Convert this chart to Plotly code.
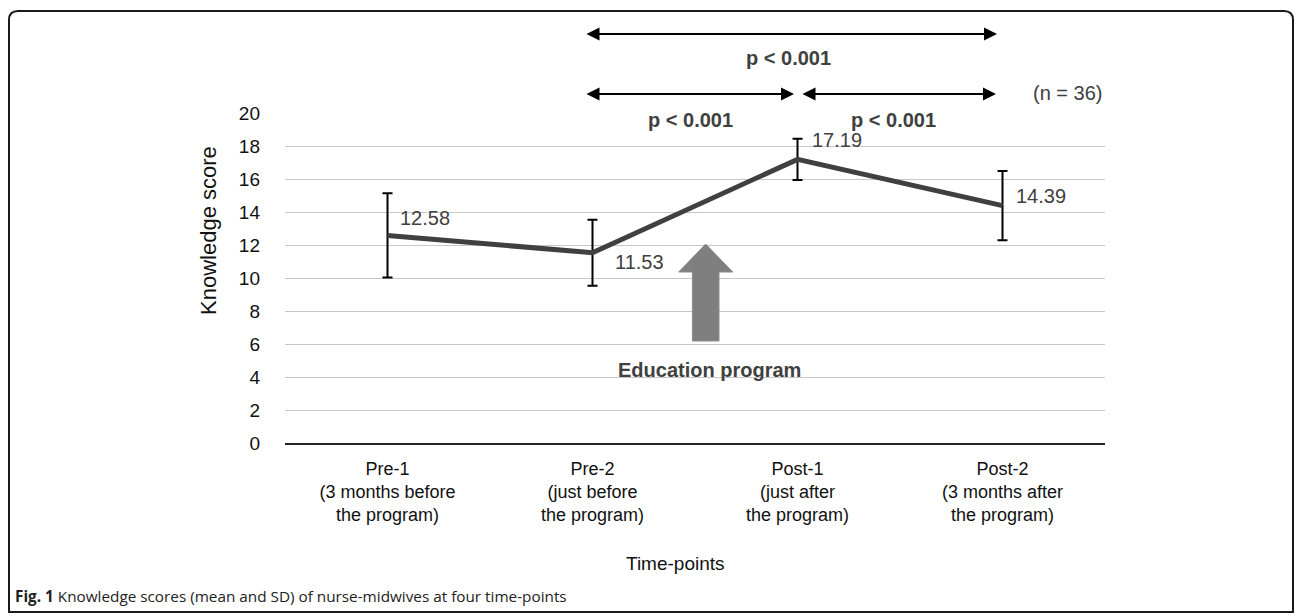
import plotly.graph_objects as go

# ---- data ----
categories = ["Pre-1", "Pre-2", "Post-1", "Post-2"]
tick_labels = [
    "Pre-1<br>(3 months before<br>the program)",
    "Pre-2<br>(just before<br>the program)",
    "Post-1<br>(just after<br>the program)",
    "Post-2<br>(3 months after<br>the program)",
]
means = [12.58, 11.53, 17.19, 14.39]
sds = [2.55, 2.0, 1.25, 2.1]
value_labels = ["12.58", "11.53", "17.19", "14.39"]
label_xshift = [10, 20, 12, 11]
label_yshift = [17, -9, 19, 10]

FONT = "Liberation Sans, Arial, sans-serif"
W, H = 1295, 615
L, R, T, B = 285, 190, 113, 172
PW, PH = W - L - R, H - T - B


def px(x):  # screen x -> paper
    return (x - L) / PW


def py(y):  # screen y -> paper
    return (H - B - y) / PH


fig = go.Figure()
fig.add_trace(go.Scatter(
    x=categories, y=means, mode="lines",
    line=dict(color="#404040", width=5),
    error_y=dict(type="data", array=sds, visible=True, color="#000000", thickness=2, width=5),
    showlegend=False, hoverinfo="skip",
))

ann = []
for c, t, xs, ys in zip(categories, value_labels, label_xshift, label_yshift):
    ann.append(dict(x=c, y=means[categories.index(c)], xref="x", yref="y", text=t, showarrow=False,
                    xanchor="left", yanchor="middle", xshift=xs, yshift=ys,
                    font=dict(family=FONT, size=20, color="#404040")))


def darrow(x1, x2, y):
    return dict(x=px(x2), y=py(y), xref="paper", yref="paper", ax=-(x2 - x1), ay=0,
                axref="pixel", ayref="pixel", text="", showarrow=True, arrowside="end+start",
                arrowhead=2, startarrowhead=2, arrowsize=1.3, startarrowsize=1.3,
                arrowwidth=2, arrowcolor="#000000", standoff=0, startstandoff=0)


ann += [darrow(585, 997, 34), darrow(585, 794, 94), darrow(801, 996, 94)]

pfont = dict(family=FONT, size=20, color="#404040")
for x, y in [(788, 58), (690, 120), (893, 120)]:
    ann.append(dict(x=px(x), y=py(y), xref="paper", yref="paper", text="<b>p < 0.001</b>",
                    showarrow=False, xanchor="center", yanchor="middle", font=pfont))

ann.append(dict(x=px(1104), y=py(93), xref="paper", yref="paper", text="(n = 36)", showarrow=False,
                xanchor="right", yanchor="middle", font=dict(family=FONT, size=20, color="#404040")))
ann.append(dict(x=px(709), y=py(370), xref="paper", yref="paper", text="<b>Education program</b>",
                showarrow=False, xanchor="center", yanchor="middle", font=pfont))
ann.append(dict(x=px(208), y=py(231), xref="paper", yref="paper", text="Knowledge score",
                showarrow=False, textangle=-90, xanchor="center", yanchor="middle",
                font=dict(family=FONT, size=22, color="#111111")))
ann.append(dict(x=px(675), y=py(563), xref="paper", yref="paper", text="Time-points",
                showarrow=False, xanchor="center", yanchor="middle",
                font=dict(family=FONT, size=19, color="#111111")))
ann.append(dict(x=px(13), y=py(596), xref="paper", yref="paper",
                text="<b>Fig. 1</b> Knowledge scores (mean and SD) of nurse-midwives at four time-points",
                showarrow=False, xanchor="left", yanchor="middle",
                font=dict(family="Open Sans, sans-serif", size=15.3, color="#222222")))

# block arrow (education program)
cx, tip, hb, bot = 705.7, 244, 272, 341
hw, sw = 27, 13.3
pts = [(cx, tip), (cx + hw, hb), (cx + sw, hb), (cx + sw, bot), (cx - sw, bot), (cx - sw, hb), (cx - hw, hb)]
path = "M " + " L ".join(f"{px(a):.5f},{py(b):.5f}" for a, b in pts) + " Z"
shapes = [dict(type="path", path=path, xref="paper", yref="paper", fillcolor="#7f7f7f",
               line=dict(color="#8c8c8c", width=1))]

# rounded border
l, t, r, b, rr = 9, 11, 1293, 612, 9
bp = (f"M {px(l+rr)},{py(t)} L {px(r-rr)},{py(t)} Q {px(r)},{py(t)} {px(r)},{py(t+rr)} "
      f"L {px(r)},{py(b)} L {px(l)},{py(b)} L {px(l)},{py(t+rr)} Q {px(l)},{py(t)} {px(l+rr)},{py(t)} Z")
shapes.append(dict(type="path", path=bp, xref="paper", yref="paper", line=dict(color="#1a1a1a", width=2)))

fig.update_layout(
    width=W, height=H, margin=dict(l=L, r=R, t=T, b=B),
    paper_bgcolor="white", plot_bgcolor="white",
    annotations=ann, shapes=shapes,
    xaxis=dict(range=[-0.5, 3.5], tickmode="array", tickvals=categories, ticktext=tick_labels,
               showgrid=False, showline=True, linecolor="#262626", linewidth=2, ticks="",
               ticklabelstandoff=8, tickfont=dict(family=FONT, size=18, color="#111111"),
               zeroline=False, fixedrange=True),
    yaxis=dict(range=[0, 20], tickmode="array", tickvals=list(range(0, 21, 2)),
               showgrid=True, gridcolor="#c8c8c8", gridwidth=1.3, zeroline=False, showline=False,
               ticks="", ticklabelstandoff=24, tickfont=dict(family=FONT, size=19, color="#111111"),
               fixedrange=True),
)

fig.write_html("out.html", config={"displayModeBar": False},
               post_script="document.body.style.margin='0';document.body.style.overflow='hidden';")
